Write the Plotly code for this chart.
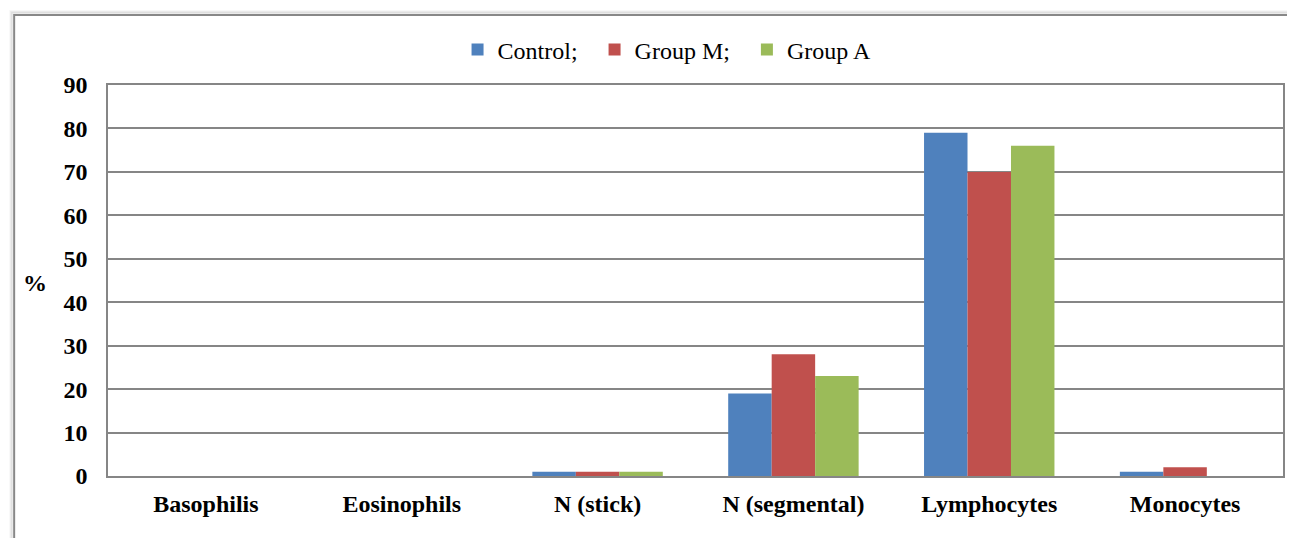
import plotly.graph_objects as go

categories = ["Basophilis", "Eosinophils", "N (stick)", "N (segmental)", "Lymphocytes", "Monocytes"]
control = [0, 0, 1, 19, 79, 1]
group_m = [0, 0, 1, 28, 70, 2]
group_a = [0, 0, 1, 23, 76, 0]
series_names = ["Control;", "Group M;", "Group A"]
colors = ["#4F81BD", "#C0504D", "#9BBB59"]
y_ticks = list(range(0, 100, 10))

# page body margin offset (browser default 8px)
OFF = 8
W, H = 1295 - OFF, 538 - OFF
L, R, T, B = 108 - OFF, 1285 - OFF, 85 - OFF, 476 - OFF

def px_x(px):
    return (px - OFF - L) / (R - L)

def px_y(py):
    return (B - (py - OFF)) / (B - T)

fig = go.Figure()
pad = "\u00a0\u00a0"
for i, (name, vals, c) in enumerate(zip(series_names, [control, group_m, group_a], colors)):
    label = name + (pad if i < len(series_names) - 1 else "")
    fig.add_trace(go.Bar(x=categories, y=vals, name=label, marker_color=c,
                         marker_line_width=0))

font_family = "Liberation Serif"
grid_c = "#868686"

fig.update_layout(
    width=W, height=H,
    margin=dict(l=L, r=W - R, t=T, b=H - B, pad=0),
    paper_bgcolor="white", plot_bgcolor="white",
    barmode="group", bargap=0.334, bargroupgap=0,
    font=dict(family=font_family, color="black"),
    showlegend=True,
    legend=dict(orientation="h", x=px_x(668), xanchor="center", y=px_y(50), yanchor="middle",
                font=dict(size=24, family=font_family), itemwidth=30,
                bgcolor="rgba(0,0,0,0)", traceorder="normal"),
    xaxis=dict(showgrid=False, showline=True, linecolor=grid_c, linewidth=1.5, mirror=True,
               tickfont=dict(size=24, family=font_family, weight="bold"),
               ticks="", ticklabelstandoff=5),
    yaxis=dict(range=[0, 90], tickvals=y_ticks, showgrid=True, gridcolor=grid_c, gridwidth=1.5,
               showline=True, linecolor=grid_c, linewidth=1.5, mirror=True, zeroline=False,
               tickfont=dict(size=24, family=font_family, weight="bold"),
               ticks="", ticklabelstandoff=14),
)

# "%" axis title
fig.add_annotation(text="<b>%</b>", xref="paper", yref="paper", x=px_x(35), y=px_y(283),
                   showarrow=False, font=dict(size=24, family=font_family), xanchor="center",
                   yanchor="middle")

# outer chart frame with faint shadow
shapes = []
for off, col in [(4, "rgba(0,0,0,0.03)"), (3, "rgba(0,0,0,0.05)"), (2, "rgba(0,0,0,0.08)")]:
    shapes.append(dict(type="rect", xref="paper", yref="paper",
                       x0=px_x(14 - off), x1=px_x(1310), y0=px_y(15 - off), y1=px_y(560),
                       line=dict(color=col, width=2), fillcolor="rgba(0,0,0,0)", layer="below"))
shapes.append(dict(type="rect", xref="paper", yref="paper",
                   x0=px_x(14), x1=px_x(1310), y0=px_y(15), y1=px_y(560),
                   line=dict(color="#888888", width=2), fillcolor="rgba(0,0,0,0)", layer="below"))
fig.update_layout(shapes=shapes)

fig.write_html("out.html")
